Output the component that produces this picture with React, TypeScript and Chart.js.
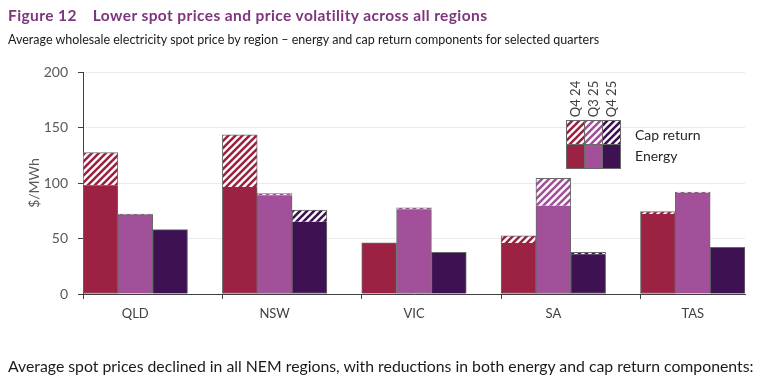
import React, { useEffect, useRef } from "react";
import { Chart, registerables } from "chart.js";

Chart.register(...registerables);

const regions = ["QLD", "NSW", "VIC", "SA", "TAS"];
const quarters = ["Q4 24", "Q3 25", "Q4 25"];

// energy and cap return components ($/MWh), by region
const energyQ424 = [98, 96.5, 46, 46, 72];
const capQ424 = [29.5, 47, 0, 6.5, 2.2];
const energyQ325 = [71.5, 89, 76.3, 79.6, 91];
const capQ325 = [0.5, 1.5, 1.3, 24.6, 0.8];
const energyQ425 = [58, 65, 37.5, 35.7, 42];
const capQ425 = [0, 10.5, 0, 1.8, 0];

const yTicks = [0, 50, 100, 150, 200];

const quarterColors = ["#9B2242", "#A15099", "#3D1152"];
const BORDER = "#6a6a6a";
const FONT = "Lato, 'Open Sans', sans-serif";

function makeHatch(color: string): CanvasPattern | string {
  const s = 7;
  const c = document.createElement("canvas");
  c.width = s;
  c.height = s;
  const g = c.getContext("2d");
  if (!g) return color;
  g.fillStyle = "#ffffff";
  g.fillRect(0, 0, s, s);
  g.strokeStyle = color;
  g.lineWidth = 2.6;
  g.lineCap = "square";
  g.beginPath();
  g.moveTo(0, s);
  g.lineTo(s, 0);
  g.moveTo(-2, 2);
  g.lineTo(2, -2);
  g.moveTo(s - 2, s + 2);
  g.lineTo(s + 2, s - 2);
  g.stroke();
  const p = g.createPattern(c, "repeat");
  return p || color;
}

export default function App() {
  const ref = useRef<HTMLCanvasElement | null>(null);

  useEffect(() => {
    if (!ref.current) return;
    const energyByQ = [energyQ424, energyQ325, energyQ425];
    const capByQ = [capQ424, capQ325, capQ425];
    const hatches = quarterColors.map(makeHatch);

    const nSlots = regions.length * 4 - 1;
    const labels: string[] = [];
    const energyData: (number | null)[] = [];
    const capData: (number | null)[] = [];
    const solidColors: string[] = [];
    const hatchColors: (CanvasPattern | string)[] = [];
    for (let i = 0; i < nSlots; i++) {
      const r = Math.floor(i / 4);
      const q = i % 4;
      labels.push(q === 1 ? regions[r] : "");
      if (q < 3) {
        energyData.push(energyByQ[q][r]);
        capData.push(capByQ[q][r] > 0 ? capByQ[q][r] : null);
        solidColors.push(quarterColors[q]);
        hatchColors.push(hatches[q]);
      } else {
        energyData.push(null);
        capData.push(null);
        solidColors.push("transparent");
        hatchColors.push("transparent");
      }
    }

    const legendPlugin = {
      id: "customLegend",
      afterDraw(chart: any) {
        const ctx = chart.ctx as CanvasRenderingContext2D;
        ctx.save();
        const x0 = 566;
        const w = 18;
        const yTop = 120;
        const h = 24;
        for (let q = 0; q < 3; q++) {
          const x = x0 + q * w;
          ctx.fillStyle = hatches[q] as any;
          ctx.fillRect(x, yTop, w, h);
          ctx.fillStyle = quarterColors[q];
          ctx.fillRect(x, yTop + h, w, h);
          ctx.strokeStyle = BORDER;
          ctx.lineWidth = 1;
          ctx.strokeRect(x + 0.5, yTop + 0.5, w, h);
          ctx.strokeRect(x + 0.5, yTop + h + 0.5, w, h);
          // rotated label
          ctx.save();
          ctx.translate(x + w / 2 + 1, 99);
          ctx.rotate(-Math.PI / 2);
          ctx.fillStyle = "#404040";
          ctx.font = `13px ${FONT}`;
          ctx.textAlign = "center";
          ctx.textBaseline = "middle";
          ctx.fillText(quarters[q], 0, 0);
          ctx.restore();
        }
        ctx.fillStyle = "#262626";
        ctx.font = `14px ${FONT}`;
        ctx.textAlign = "left";
        ctx.textBaseline = "middle";
        ctx.fillText("Cap return", 635, 135);
        ctx.fillText("Energy", 635, 156);
        ctx.restore();
      },
    };

    const chart = new Chart(ref.current, {
      type: "bar",
      data: {
        labels,
        datasets: [
          {
            label: "Energy",
            data: energyData,
            backgroundColor: solidColors,
            borderColor: BORDER,
            borderWidth: 1,
            borderSkipped: ((ctx: any) =>
              capData[ctx.dataIndex] && (capData[ctx.dataIndex] as number) > 1 ? "top" : "bottom") as any,
            barPercentage: 1,
            categoryPercentage: 1,
            stack: "s",
          },
          {
            label: "Cap return",
            data: capData,
            backgroundColor: hatchColors as any,
            borderColor: BORDER,
            borderWidth: 1,
            borderSkipped: "bottom",
            barPercentage: 1,
            categoryPercentage: 1,
            stack: "s",
          },
        ],
      },
      options: {
        animation: false,
        responsive: false,
        devicePixelRatio: 1,
        layout: { padding: { left: 0, top: 72, right: 22, bottom: 0 } },
        plugins: {
          legend: { display: false },
          tooltip: { enabled: false },
          title: { display: false },
        },
        scales: {
          x: {
            type: "category",
            stacked: true,
            offset: true,
            afterFit: (s: any) => {
              s.height = 94;
            },
            border: { color: "#404040", width: 1 },
            grid: {
              offset: true,
              drawOnChartArea: false,
              tickLength: 5,
              tickColor: ((ctx: any) => (ctx.index % 4 === 0 ? "#404040" : "transparent")) as any,
            },
            ticks: {
              autoSkip: false,
              maxRotation: 0,
              minRotation: 0,
              padding: 7,
              color: "#404040",
              font: { family: FONT, size: 13 },
            },
          },
          y: {
            stacked: true,
            min: 0,
            max: 200,
            afterFit: (s: any) => {
              s.width = 83;
            },
            afterBuildTicks: (s: any) => {
              s.ticks = yTicks.map((v) => ({ value: v }));
            },
            border: { color: "#404040", width: 1 },
            grid: {
              color: ((ctx: any) => (ctx.tick && ctx.tick.value === 0 ? "transparent" : "#ebebeb")) as any,
              tickColor: "#404040",
              tickLength: 5,
            },
            ticks: {
              padding: 10,
              color: "#595959",
              font: { family: FONT, size: 14 },
            },
            title: {
              display: true,
              text: "$/MWh",
              color: "#595959",
              font: { family: FONT, size: 14 },
              padding: { top: 26, bottom: 0 },
            },
          },
        },
      },
      plugins: [legendPlugin],
    });
    return () => chart.destroy();
  }, []);

  return (
    <div style={{ position: "relative", width: 767, height: 388, margin: -8, background: "#fff", overflow: "hidden" }}>
      <canvas ref={ref} width={767} height={388} style={{ position: "absolute", left: 0, top: 0, width: 767, height: 388 }} />
      <div
        style={{
          position: "absolute",
          left: 8,
          top: 5,
          fontFamily: FONT,
          fontWeight: 700,
          fontSize: 15.5,
          letterSpacing: 0.4,
          color: "#7E347E",
          whiteSpace: "nowrap",
          lineHeight: "20px",
        }}
      >
        <span>Figure 12</span>
        <span style={{ marginLeft: 16 }}>Lower spot prices and price volatility across all regions</span>
      </div>
      <div
        style={{
          position: "absolute",
          left: 8,
          top: 32,
          fontFamily: FONT,
          fontSize: 12.5,
          color: "#1a1a1a",
          whiteSpace: "nowrap",
          lineHeight: "16px",
        }}
      >
        Average wholesale electricity spot price by region – energy and cap return components for selected quarters
      </div>
      <div
        style={{
          position: "absolute",
          left: 8,
          top: 356,
          fontFamily: FONT,
          fontSize: 15.8,
          color: "#1a1a1a",
          whiteSpace: "nowrap",
          lineHeight: "20px",
        }}
      >
        Average spot prices declined in all NEM regions, with reductions in both energy and cap return components:
      </div>
    </div>
  );
}
